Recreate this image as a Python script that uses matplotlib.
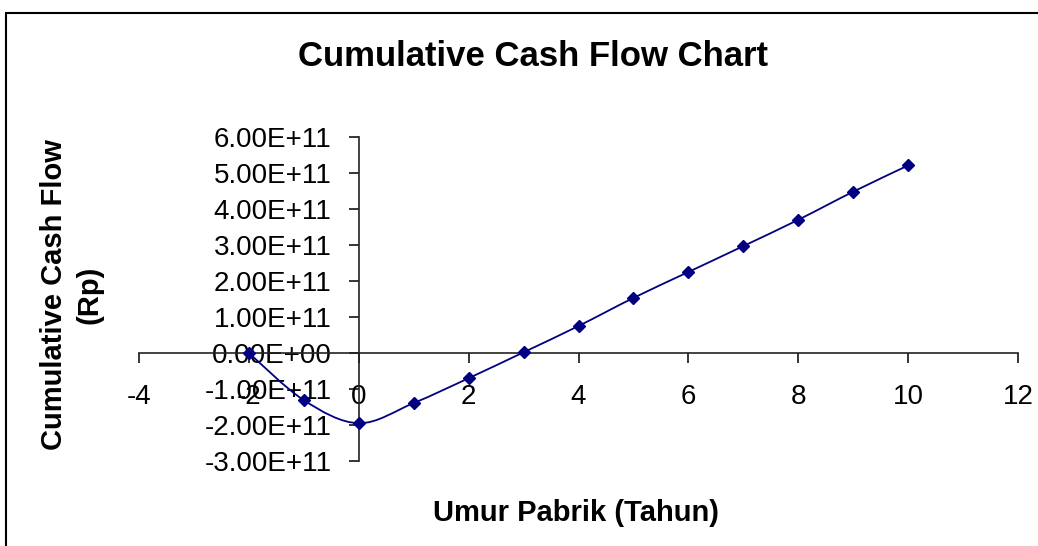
import numpy as np
import matplotlib
matplotlib.use("Agg")
import matplotlib.pyplot as plt
from matplotlib.path import Path
from matplotlib.patches import PathPatch, Rectangle
from matplotlib.ticker import FuncFormatter

plt.rcParams["font.family"] = ["Liberation Sans", "DejaVu Sans"]
plt.rcParams["axes.unicode_minus"] = False

# --- data ---
tahun = [-2, -1, 0, 1, 2, 3, 4, 5, 6, 7, 8, 9, 10]
cum_cash_flow = [0.0, -1.31e11, -1.95e11, -1.39e11, -0.70e11, 0.02e11, 0.75e11,
                 1.53e11, 2.25e11, 2.97e11, 3.70e11, 4.48e11, 5.21e11]

x_ticks = [-4, -2, 0, 2, 4, 6, 8, 10, 12]
y_ticks = [-3e11, -2e11, -1e11, 0, 1e11, 2e11, 3e11, 4e11, 5e11, 6e11]

NAVY = "#000080"


def smooth_path(xs, ys):
    # Excel-style smoothed line: Catmull-Rom segments as cubic Bezier curves
    pts = np.column_stack([xs, ys]).astype(float)
    verts = [pts[0]]
    codes = [Path.MOVETO]
    n = len(pts)
    for i in range(n - 1):
        p0 = pts[i - 1] if i > 0 else pts[i]
        p1 = pts[i]
        p2 = pts[i + 1]
        p3 = pts[i + 2] if i + 2 < n else pts[i + 1]
        c1 = p1 + (p2 - p0) / 6.0
        c2 = p2 - (p3 - p1) / 6.0
        verts += [c1, c2, p2]
        codes += [Path.CURVE4] * 3
    return Path(verts, codes)


fig = plt.figure(figsize=(10.38, 5.46), dpi=100)
ax = fig.add_axes([139 / 1038, 1 - 461 / 546, 879 / 1038, 324 / 546])

ax.add_patch(PathPatch(smooth_path(tahun, cum_cash_flow), fill=False,
                       edgecolor=NAVY, linewidth=1.3, zorder=3))
ax.plot(tahun, cum_cash_flow, linestyle="none", marker="D", markersize=6.5,
        color=NAVY, zorder=4)

ax.set_xlim(-4, 12)
ax.set_ylim(-3e11, 6e11)
ax.set_xticks(x_ticks)
ax.set_yticks(y_ticks)
ax.yaxis.set_major_formatter(FuncFormatter(lambda v, _: f"{v:.2E}"))

for side in ["top", "right"]:
    ax.spines[side].set_visible(False)
ax.spines["left"].set_position(("data", 0))
ax.spines["bottom"].set_position(("data", 0))
for side in ["left", "bottom"]:
    ax.spines[side].set_linewidth(1.2)
    ax.spines[side].set_color("#222222")

ax.tick_params(axis="y", direction="out", length=7, width=1.1, pad=12.5, labelsize=20)
ax.tick_params(axis="x", direction="out", length=7, width=1.1, pad=15, labelsize=20)

fig.text(533 / 1038, 1 - 57 / 546, "Cumulative Cash Flow Chart", fontsize=25,
         fontweight="bold", ha="center", va="center")
fig.text(576 / 1038, 1 - 513 / 546, "Umur Pabrik (Tahun)", fontsize=21,
         fontweight="bold", ha="center", va="center")
fig.text(72 / 1038, 1 - 295 / 546, "Cumulative Cash Flow\n(Rp)", fontsize=21,
         fontweight="bold", ha="center", va="center", rotation=90,
         multialignment="center", linespacing=1.35)

# chart area border (runs off the right and bottom edges)
fig.patches.append(Rectangle((5.5 / 1038, -0.1), 1.2, 1 - 12.5 / 546 + 0.1,
                             transform=fig.transFigure, fill=False,
                             edgecolor="black", linewidth=1.5))

fig.savefig("out.png", dpi=100)
